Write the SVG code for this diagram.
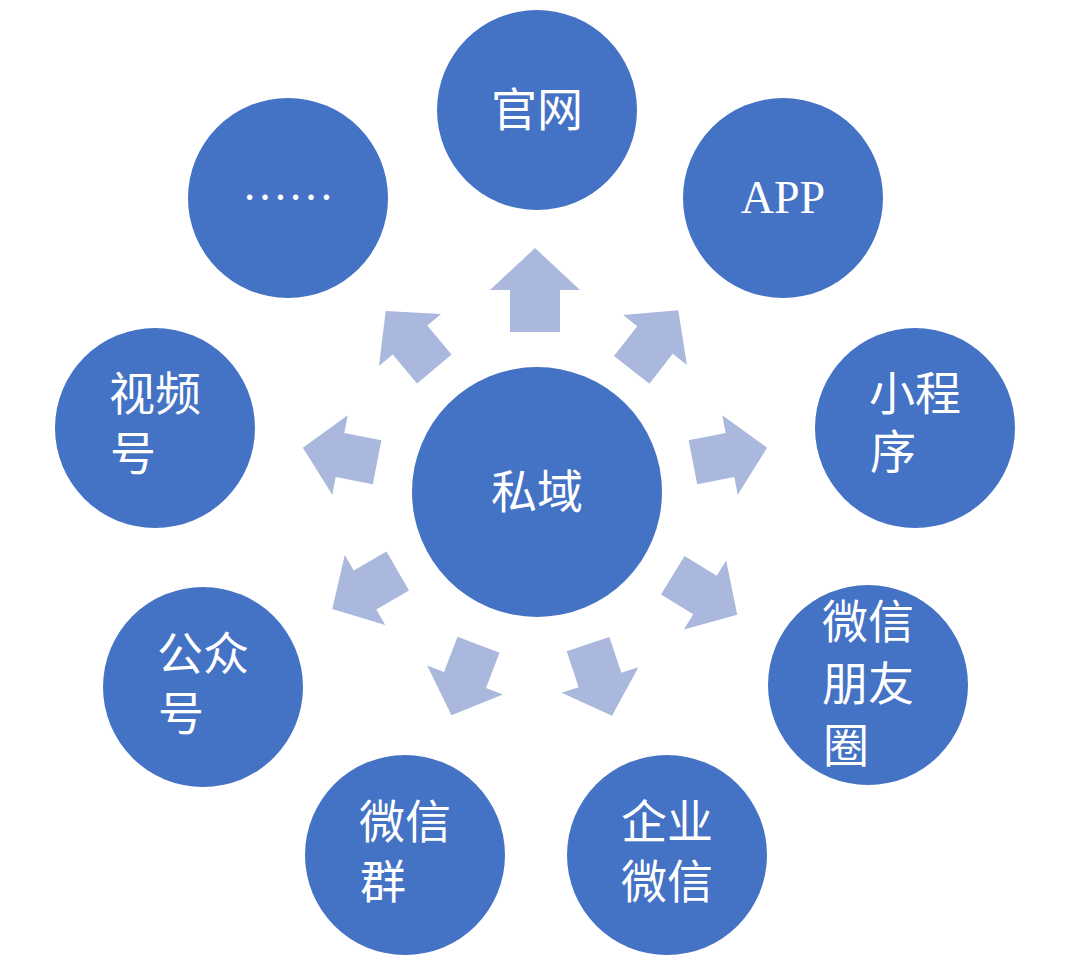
<svg xmlns="http://www.w3.org/2000/svg" width="1080" height="963" viewBox="0 0 1080 963">
<defs>
<style>
.n{fill:#4472C4}
.t{fill:#fff;font-family:"Liberation Serif","Noto Sans CJK SC",serif;font-size:46px;text-anchor:middle}
.a{fill:#A9B8DC}
</style>
<path id="ar" d="M-42,-25 L0,-25 L0,-45 L42,0 L0,45 L0,25 L-42,25 Z"/>
</defs>
<rect width="1080" height="963" fill="#fff"/>
<g id="connectors" class="a">
<use href="#ar" transform="translate(535,290) rotate(-90)"/>
<use href="#ar" transform="translate(655,340) rotate(-52) scale(0.9)"/>
<use href="#ar" transform="translate(730,455) rotate(-11) scale(0.9)"/>
<use href="#ar" transform="translate(705,595) rotate(31.5) scale(0.9)"/>
<use href="#ar" transform="translate(600,680) rotate(71.5) scale(0.9)"/>
<use href="#ar" transform="translate(465,680) rotate(111) scale(0.9)"/>
<use href="#ar" transform="translate(365,590) rotate(150) scale(0.9)"/>
<use href="#ar" transform="translate(340,455) rotate(191) scale(0.9)"/>
<use href="#ar" transform="translate(410,340) rotate(230) scale(0.9)"/>
</g>
<g id="center"><circle class="n" cx="537" cy="492" r="125"/><text class="t" x="537" y="508">私域</text></g>
<g id="guanwang"><circle class="n" cx="537" cy="110" r="100"/><text class="t" x="537" y="126">官网</text></g>
<g id="app"><circle class="n" cx="783" cy="198" r="100"/><text class="t" x="783" y="213" font-size="40">APP</text></g>
<g id="xcx"><circle class="n" cx="915" cy="428" r="100"/><text class="t" x="915" y="410">小程</text><text class="t" x="893" y="468">序</text></g>
<g id="pyq"><circle class="n" cx="868" cy="685" r="100"/><text class="t" x="868" y="638">微信</text><text class="t" x="868" y="700">朋友</text><text class="t" x="846" y="762">圈</text></g>
<g id="qywx"><circle class="n" cx="667" cy="855" r="100"/><text class="t" x="667" y="838">企业</text><text class="t" x="667" y="898">微信</text></g>
<g id="wxq"><circle class="n" cx="405" cy="855" r="100"/><text class="t" x="405" y="838">微信</text><text class="t" x="383" y="898">群</text></g>
<g id="gzh"><circle class="n" cx="203" cy="687" r="100"/><text class="t" x="203" y="670">公众</text><text class="t" x="181" y="730">号</text></g>
<g id="sph"><circle class="n" cx="155" cy="428" r="100"/><text class="t" x="155" y="410">视频</text><text class="t" x="133" y="470">号</text></g>
<g id="more"><circle class="n" cx="288" cy="198" r="100"/><text class="t" x="288" y="200" font-size="40">……</text></g>
</svg>
